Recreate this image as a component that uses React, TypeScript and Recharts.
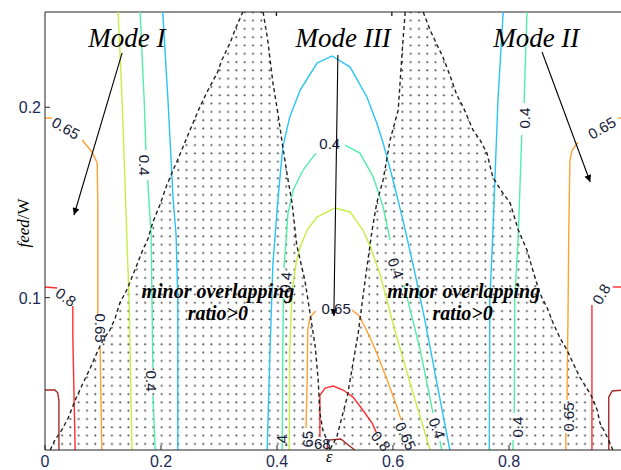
import React from 'react';
import { ComposedChart, Line, Area, XAxis, YAxis, ReferenceLine, ReferenceDot } from 'recharts';

type P = [number, number];

const X_DOMAIN: [number, number] = [0, 1];
const Y_MIN = 0.02;
const Y_MAX = 0.25;
const xTicks = [0, 0.2, 0.4, 0.6, 0.8];
const yTicks = [0.1, 0.2];

// ---- contour lines (level colours) ----
const cyanLeft: P[] = [[0.203, 0.25], [0.212, 0.2038], [0.221, 0.1513], [0.226, 0.1329], [0.229, 0.0987], [0.229, 0.02]];
const greenLeftA: P[] = [[0.164, 0.25], [0.171, 0.2038], [0.174, 0.1775]];
const greenLeftB: P[] = [[0.177, 0.1618], [0.183, 0.1329], [0.186, 0.063]];
const greenLeftC: P[] = [[0.186, 0.0488], [0.19, 0.02]];
const yellowLeft: P[] = [[0.126, 0.25], [0.133, 0.2038], [0.141, 0.1329], [0.145, 0.0987], [0.15, 0.02]];
const orangeLeftA: P[] = [[0, 0.1943], [0.012, 0.1943]];
const orangeLeftB: P[] = [[0.064, 0.1828], [0.081, 0.1765], [0.09, 0.1707], [0.091, 0.15], [0.091, 0.12], [0.091, 0.091]];
const orangeLeftC: P[] = [[0.095, 0.0735], [0.098, 0.02]];
const redLeftA: P[] = [[0, 0.1056], [0.021, 0.1051]];
const redLeftB: P[] = [[0.048, 0.0956], [0.048, 0.079], [0.052, 0.02]];
const darkRedLeft: P[] = [[0, 0.0515], [0.017, 0.0515], [0.022, 0.05], [0.024, 0.046], [0.024, 0.02]];

const cyanArch: P[] = [
  [0.383, 0.02], [0.388, 0.0725], [0.393, 0.1182], [0.402, 0.1528], [0.41, 0.1791], [0.422, 0.1949],
  [0.44, 0.209], [0.469, 0.2232], [0.495, 0.2269], [0.526, 0.2211], [0.555, 0.2054], [0.572, 0.1917],
  [0.583, 0.1812], [0.6, 0.1618], [0.617, 0.1408], [0.634, 0.1182], [0.655, 0.0882], [0.678, 0.0515], [0.698, 0.02],
];
const greenArchA: P[] = [[0.409, 0.02], [0.41, 0.0725], [0.411, 0.1]];
const greenArchB: P[] = [[0.412, 0.1155], [0.419, 0.1444], [0.428, 0.1565], [0.445, 0.167], [0.467, 0.1759]];
const greenArchC: P[] = [[0.517, 0.1801], [0.543, 0.1759], [0.566, 0.1633], [0.583, 0.1476], [0.595, 0.1303]];
const greenArchD: P[] = [[0.619, 0.1066], [0.647, 0.0725], [0.669, 0.0394]];
const greenArchE: P[] = [[0.681, 0.0247], [0.684, 0.02]];
const yellowArch: P[] = [
  [0.421, 0.02], [0.422, 0.0725], [0.426, 0.104], [0.433, 0.1182], [0.44, 0.1266], [0.452, 0.1355],
  [0.469, 0.1423], [0.5, 0.1471], [0.526, 0.145], [0.548, 0.1355], [0.56, 0.1276], [0.578, 0.1119],
  [0.603, 0.083], [0.633, 0.0515], [0.664, 0.02],
];
const orangeArchA: P[] = [[0.45, 0.0315], [0.452, 0.0567], [0.453, 0.083], [0.457, 0.0898], [0.467, 0.093]];
const orangeArchB: P[] = [[0.529, 0.0935], [0.54, 0.0909], [0.548, 0.0867], [0.56, 0.0793], [0.572, 0.0709], [0.59, 0.0567], [0.607, 0.0425], [0.614, 0.0357]];
const redArch: P[] = [[0.474, 0.0268], [0.474, 0.0488], [0.483, 0.0525], [0.497, 0.0536], [0.514, 0.0515], [0.531, 0.0478], [0.548, 0.041], [0.564, 0.0341], [0.571, 0.0294]];
const darkRedArch: P[] = [[0.486, 0.02], [0.488, 0.0252], [0.51, 0.0258], [0.534, 0.02]];

const cyanRight: P[] = [[0.79, 0.25], [0.781, 0.2038], [0.772, 0.1329], [0.767, 0.0987], [0.766, 0.02]];
const greenRightA: P[] = [[0.831, 0.25], [0.826, 0.2022]];
const greenRightB: P[] = [[0.822, 0.1854], [0.816, 0.1329], [0.81, 0.0987], [0.809, 0.0394]];
const greenRightC: P[] = [[0.807, 0.0252], [0.807, 0.02]];
const orangeRightA: P[] = [[0.898, 0.02], [0.898, 0.0289]];
const orangeRightB: P[] = [[0.9, 0.0462], [0.902, 0.0987], [0.903, 0.1329], [0.905, 0.1723], [0.909, 0.1775], [0.919, 0.1817]];
const orangeRightC: P[] = [[0.988, 0.1943], [1, 0.1943]];
const redRightA: P[] = [[0.943, 0.02], [0.943, 0.0961]];
const redRightB: P[] = [[0.979, 0.1056], [1, 0.1056]];
const darkRedRight: P[] = [[0.972, 0.02], [0.972, 0.0478], [0.978, 0.051], [1, 0.0515]];

// ---- dashed boundaries of the "minor overlapping" regions ----
const leftRegionLeftEdge: P[] = [
  [0.009, 0.02], [0.017, 0.0252], [0.029, 0.0305], [0.04, 0.0368], [0.052, 0.0462], [0.064, 0.0541],
  [0.078, 0.063], [0.09, 0.0714], [0.1, 0.0777], [0.112, 0.083], [0.121, 0.0893], [0.129, 0.0972],
  [0.141, 0.104], [0.155, 0.1145], [0.167, 0.1239], [0.178, 0.1313], [0.186, 0.1397], [0.198, 0.1486],
  [0.21, 0.1591], [0.221, 0.167], [0.238, 0.1791], [0.25, 0.188], [0.267, 0.2001], [0.281, 0.209],
  [0.297, 0.218], [0.305, 0.2248], [0.319, 0.2337], [0.329, 0.2416], [0.341, 0.25],
];
const leftRegionRightEdge: P[] = [
  [0.376, 0.25], [0.384, 0.2353], [0.393, 0.2127], [0.402, 0.1959], [0.41, 0.1791], [0.419, 0.1618],
  [0.426, 0.1497], [0.434, 0.1276], [0.448, 0.1092], [0.457, 0.0919], [0.466, 0.074], [0.471, 0.0567],
  [0.474, 0.0394], [0.479, 0.0305], [0.486, 0.0252], [0.491, 0.02],
];
const rightRegionLeftEdge: P[] = [
  [0.621, 0.25], [0.616, 0.23], [0.609, 0.1985], [0.595, 0.1828], [0.583, 0.1618], [0.572, 0.1497],
  [0.564, 0.1355], [0.552, 0.1092], [0.54, 0.0814], [0.521, 0.0478], [0.503, 0.0268], [0.491, 0.02],
];
const rightRegionRightEdge: P[] = [
  [0.652, 0.25], [0.664, 0.2405], [0.676, 0.2327], [0.686, 0.2264], [0.698, 0.2169], [0.71, 0.2064],
  [0.721, 0.2001], [0.738, 0.188], [0.75, 0.1828], [0.762, 0.1759], [0.772, 0.1633], [0.788, 0.1555],
  [0.802, 0.1497], [0.816, 0.1355], [0.831, 0.125], [0.841, 0.1145], [0.853, 0.1024], [0.866, 0.0945],
  [0.876, 0.0867], [0.888, 0.0788], [0.9, 0.0725], [0.912, 0.0646], [0.922, 0.0583], [0.933, 0.053],
  [0.943, 0.0478], [0.952, 0.041], [0.957, 0.0341], [0.966, 0.0289], [0.974, 0.0237], [0.979, 0.02],
];
const leftExtraEdge: P[] = [[0.399, 0.25], [0.399, 0.2465]];
const rightExtraEdge: P[] = [[0.598, 0.25], [0.598, 0.2465]];

// ---- arrows ----
const arrowModeI: P[] = [[0.133, 0.2285], [0.05, 0.1434]];
const arrowModeIII: P[] = [[0.505, 0.2274], [0.498, 0.0903]];
const arrowModeII: P[] = [[0.857, 0.229], [0.94, 0.1607]];

// ---- contour labels: [x, y, text, rotation] ----
const contourLabels: [number, number, string, number][] = [
  [0.036, 0.189, '0.65', 30],
  [0.036, 0.1003, '0.8', 35],
  [0.172, 0.1696, '0.4', 90],
  [0.184, 0.0562, '0.4', 90],
  [0.095, 0.084, '0.65', 90],
  [0.491, 0.1812, '0.4', 0],
  [0.415, 0.108, '0.4', -85],
  [0.605, 0.1155, '0.4', 70],
  [0.676, 0.0315, '0.4', 70],
  [0.502, 0.0945, '0.65', 0],
  [0.622, 0.0273, '0.65', 65],
  [0.579, 0.0247, '0.8', 50],
  [0.452, 0.0257, '65', -90],
  [0.478, 0.0232, '68', 0],
  [0.407, 0.0247, '.4', -90],
  [0.826, 0.1943, '0.4', -90],
  [0.814, 0.032, '0.4', -90],
  [0.96, 0.1891, '0.65', -30],
  [0.903, 0.0373, '0.65', -90],
  [0.959, 0.1019, '0.8', -60],
];

const modeLabels: [number, number, string][] = [
  [0.141, 0.2316, 'Mode I'],
  [0.514, 0.2316, 'Mode III'],
  [0.847, 0.2316, 'Mode II'],
];
const regionLabels: [number, number, string][] = [
  [0.298, 0.0998, 'minor overlapping'],
  [0.298, 0.0882, 'ratio>0'],
  [0.722, 0.0998, 'minor overlapping'],
  [0.72, 0.0882, 'ratio>0'],
];

const C_CYAN = '#28c4f4';
const C_GREEN = '#52eea6';
const C_YELLOW = '#c4f044';
const C_ORANGE = '#ffa233';
const C_RED = '#ff2e2e';
const C_DARKRED = '#a82a2a';

const contours: [string, P[]][] = [
  [C_CYAN, cyanLeft], [C_GREEN, greenLeftA], [C_GREEN, greenLeftB], [C_GREEN, greenLeftC],
  [C_YELLOW, yellowLeft], [C_ORANGE, orangeLeftA], [C_ORANGE, orangeLeftB], [C_ORANGE, orangeLeftC],
  [C_RED, redLeftA], [C_RED, redLeftB], [C_DARKRED, darkRedLeft],
  [C_CYAN, cyanArch], [C_GREEN, greenArchA], [C_GREEN, greenArchB], [C_GREEN, greenArchC],
  [C_GREEN, greenArchD], [C_GREEN, greenArchE], [C_YELLOW, yellowArch], [C_ORANGE, orangeArchA],
  [C_ORANGE, orangeArchB], [C_RED, redArch], [C_DARKRED, darkRedArch],
  [C_CYAN, cyanRight], [C_GREEN, greenRightA], [C_GREEN, greenRightB], [C_GREEN, greenRightC],
  [C_ORANGE, orangeRightA], [C_ORANGE, orangeRightB], [C_ORANGE, orangeRightC],
  [C_RED, redRightA], [C_RED, redRightB], [C_DARKRED, darkRedRight],
];
const dashed: P[][] = [leftRegionLeftEdge, leftRegionRightEdge, rightRegionLeftEdge, rightRegionRightEdge, leftExtraEdge, rightExtraEdge];
const arrows: P[][] = [arrowModeI, arrowModeIII, arrowModeII];

const toObj = (pts: P[]) => pts.map(([x, y]) => ({ x, y }));
const leftFill = toObj([...leftRegionLeftEdge, ...leftRegionRightEdge]);
const rightFill = toObj([...[...rightRegionLeftEdge].reverse(), ...rightRegionRightEdge]);

const SERIF = '"Liberation Serif", "Times New Roman", serif';
const SANS = '"Liberation Sans", Arial, sans-serif';
const TICK_COLOR = '#1c2a58';

const fmt = (v: number) => (v === 0 ? '0' : String(Number(v.toFixed(1))));

const XTick = (props: any) => {
  const { x, payload } = props;
  return (
    <g>
      <line x1={x} y1={450} x2={x} y2={445} stroke="#222" strokeWidth={1} />
      <text x={x} y={467} textAnchor="middle" fontSize={16} fontFamily={SANS} fill={TICK_COLOR}>{fmt(payload.value)}</text>
    </g>
  );
};
const YTick = (props: any) => {
  const { y, payload } = props;
  return (
    <g>
      <line x1={45} y1={y} x2={50} y2={y} stroke="#222" strokeWidth={1} />
      <text x={41} y={y + 6} textAnchor="end" fontSize={16} fontFamily={SANS} fill={TICK_COLOR}>{fmt(payload.value)}</text>
    </g>
  );
};

export default function App() {
  return (
    <div style={{ position: 'absolute', left: 0, top: 0, width: 621, height: 470, overflow: 'hidden', background: '#fff' }}>
      <ComposedChart width={640} height={470} margin={{ top: 12, right: 15, bottom: 0, left: 0 }}>
        <defs>
          <pattern id="dots" width="8.3" height="8.3" patternUnits="userSpaceOnUse">
            <circle cx="4" cy="4" r="1" fill="#444" />
          </pattern>
          <marker id="arrowhead" viewBox="0 0 10 10" refX="10" refY="5" markerWidth="9" markerHeight="7" orient="auto" markerUnits="userSpaceOnUse">
            <path d="M0,0 L10,5 L0,10 z" fill="#000" />
          </marker>
        </defs>
        <XAxis
          type="number"
          dataKey="x"
          domain={X_DOMAIN}
          ticks={xTicks}
          allowDataOverflow
          height={20}
          tickLine={false}
          tickSize={0}
          tickMargin={0}
          tick={<XTick />}
          axisLine={{ stroke: '#222' }}
        />
        <YAxis
          type="number"
          domain={[Y_MIN, Y_MAX]}
          ticks={yTicks}
          allowDataOverflow
          width={45}
          tickLine={false}
          tickSize={0}
          tickMargin={0}
          tick={<YTick />}
          axisLine={{ stroke: '#222' }}
        />
        <ReferenceLine y={Y_MAX} stroke="#222" strokeWidth={1} />

        <Area data={leftFill} dataKey="y" type="linear" baseValue={Y_MIN} stroke="none" fill="url(#dots)" fillOpacity={1} isAnimationActive={false} />
        <Area data={rightFill} dataKey="y" type="linear" baseValue={Y_MIN} stroke="none" fill="url(#dots)" fillOpacity={1} isAnimationActive={false} />

        {contours.map(([color, pts], i) => (
          <Line key={'c' + i} data={toObj(pts)} dataKey="y" type="linear" stroke={color} strokeWidth={1.4} dot={false} activeDot={false} isAnimationActive={false} />
        ))}
        {dashed.map((pts, i) => (
          <Line key={'d' + i} data={toObj(pts)} dataKey="y" type="linear" stroke="#222" strokeWidth={1.4} strokeDasharray="4 3" dot={false} activeDot={false} isAnimationActive={false} />
        ))}
        {arrows.map((pts, i) => (
          <Line key={'a' + i} data={toObj(pts)} dataKey="y" type="linear" stroke="#000" strokeWidth={1.1} markerEnd="url(#arrowhead)" dot={false} activeDot={false} isAnimationActive={false} />
        ))}

        {contourLabels.map(([x, y, t, rot], i) => (
          <ReferenceDot key={'l' + i} x={x} y={y} r={1} ifOverflow="visible"
            shape={(p: any) => (
              <text x={p.cx} y={p.cy} transform={`rotate(${rot} ${p.cx} ${p.cy})`} textAnchor="middle" dominantBaseline="central"
                fontSize={15} fontFamily={SANS} fill="#161a36">{t}</text>
            )} />
        ))}
        {modeLabels.map(([x, y, t], i) => (
          <ReferenceDot key={'m' + i} x={x} y={y} r={1} ifOverflow="visible"
            shape={(p: any) => (
              <text x={p.cx} y={p.cy} textAnchor="middle" fontSize={27} fontStyle="italic" fontFamily={SERIF} fill="#000">{t}</text>
            )} />
        ))}
        {regionLabels.map(([x, y, t], i) => (
          <ReferenceDot key={'r' + i} x={x} y={y} r={1} ifOverflow="visible"
            shape={(p: any) => (
              <text x={p.cx} y={p.cy} textAnchor="middle" fontSize={20} fontStyle="italic" fontWeight="bold" fontFamily={SERIF} fill="#000">{t}</text>
            )} />
        ))}
        <ReferenceDot x={0.49} y={Y_MIN} r={1} ifOverflow="visible"
          shape={(p: any) => (
            <text x={p.cx} y={p.cy + 12} textAnchor="middle" fontSize={16} fontStyle="italic" fontFamily={SERIF} fill="#000">ε</text>
          )} />
        <ReferenceDot x={0} y={0.1392} r={1} ifOverflow="visible"
          shape={(p: any) => (
            <text x={p.cx - 16} y={p.cy} transform={`rotate(-90 ${p.cx - 16} ${p.cy})`} textAnchor="middle" fontSize={17} fontFamily={SERIF} fill="#000">
              <tspan fontStyle="italic">feed</tspan>/W
            </text>
          )} />
      </ComposedChart>
    </div>
  );
}
